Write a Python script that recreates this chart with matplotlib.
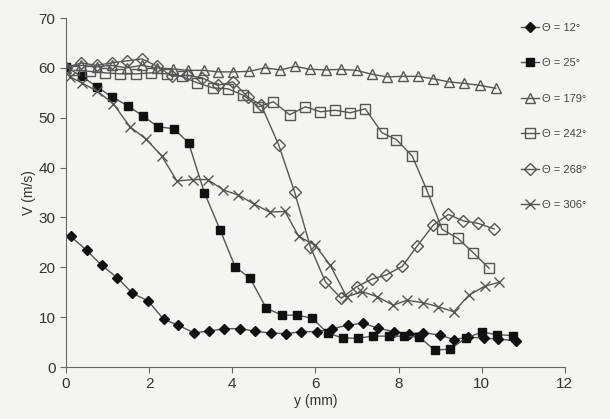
import numpy as np
import matplotlib.pyplot as plt

plt.rcParams['font.family'] = ['Liberation Sans', 'DejaVu Sans']

# Theta = 12 deg (filled diamonds)
x12 = [0.12, 0.5, 0.86, 1.24, 1.6, 1.97, 2.35, 2.7, 3.07, 3.44, 3.8, 4.18, 4.55, 4.93, 5.3,
       5.66, 6.04, 6.41, 6.78, 7.15, 7.5, 7.89, 8.25, 8.6, 9.0, 9.33, 9.67, 10.06, 10.4, 10.82]
v12 = [26.2, 23.4, 20.4, 17.9, 14.8, 13.3, 9.6, 8.4, 6.9, 7.2, 7.7, 7.7, 7.2, 6.8, 6.7,
       7.1, 7.1, 7.7, 8.4, 8.8, 7.8, 7.1, 6.7, 6.9, 6.4, 5.5, 6.0, 5.8, 5.6, 5.3]

# Theta = 25 deg (filled squares)
x25 = [0.0, 0.38, 0.75, 1.1, 1.49, 1.86, 2.21, 2.59, 2.95, 3.33, 3.71, 4.07, 4.43, 4.82, 5.2,
       5.57, 5.92, 6.3, 6.67, 7.02, 7.39, 7.77, 8.14, 8.5, 8.87, 9.24, 9.62, 10.0, 10.38, 10.75]
v25 = [60.2, 58.3, 56.2, 54.2, 52.4, 50.3, 48.2, 47.8, 45.0, 35.0, 27.5, 20.1, 17.8, 11.8, 10.4,
       10.4, 9.8, 6.8, 5.8, 5.8, 6.2, 6.2, 6.2, 6.0, 3.4, 3.6, 5.8, 7.0, 6.5, 6.3]

# Theta = 179 deg (open triangles)
x179 = [0.0, 0.37, 0.74, 1.1, 1.46, 1.82, 2.19, 2.57, 2.93, 3.31, 3.67, 4.03, 4.41, 4.78, 5.16,
        5.52, 5.88, 6.26, 6.62, 6.99, 7.37, 7.73, 8.1, 8.47, 8.84, 9.21, 9.57, 9.95, 10.34]
v179 = [60.0, 60.5, 60.2, 60.5, 60.0, 60.5, 60.0, 59.8, 59.5, 59.5, 59.2, 59.2, 59.3, 60.0, 59.6,
        60.3, 59.7, 59.6, 59.7, 59.5, 58.7, 58.2, 58.3, 58.3, 57.8, 57.2, 56.9, 56.5, 55.9]

# Theta = 242 deg (open squares)
x242 = [0.2, 0.57, 0.94, 1.31, 1.68, 2.05, 2.42, 2.79, 3.16, 3.53, 3.9, 4.27, 4.63, 4.99, 5.38,
        5.76, 6.12, 6.48, 6.84, 7.2, 7.6, 7.95, 8.33, 8.69, 9.05, 9.43, 9.8, 10.18]
v242 = [59.5, 59.3, 59.0, 58.8, 58.8, 59.0, 58.8, 58.3, 57.0, 56.0, 55.8, 54.5, 52.2, 53.2, 50.6,
        52.2, 51.2, 51.5, 51.0, 51.8, 47.0, 45.6, 42.3, 35.3, 27.6, 25.8, 22.9, 19.8]

# Theta = 268 deg (open diamonds)
x268 = [0.0, 0.37, 0.74, 1.1, 1.46, 1.83, 2.2, 2.55, 2.92, 3.28, 3.65, 4.02, 4.37, 4.7, 5.12,
        5.5, 5.88, 6.24, 6.62, 6.99, 7.35, 7.71, 8.09, 8.45, 8.84, 9.2, 9.56, 9.92, 10.3]
v268 = [60.0, 61.0, 60.5, 61.0, 61.4, 61.8, 60.3, 58.3, 58.5, 58.0, 56.5, 57.2, 54.2, 52.5, 44.5,
        35.1, 24.1, 17.1, 13.8, 16.1, 17.6, 18.5, 20.2, 24.3, 28.5, 30.6, 29.3, 28.8, 27.7]

# Theta = 306 deg (crosses)
x306 = [0.1, 0.38, 0.76, 1.14, 1.54, 1.93, 2.3, 2.67, 3.05, 3.41, 3.79, 4.15, 4.52, 4.9, 5.27,
        5.6, 6.0, 6.36, 6.75, 7.13, 7.49, 7.87, 8.2, 8.6, 8.95, 9.33, 9.69, 10.07, 10.42]
v306 = [58.2, 57.0, 55.3, 52.8, 48.2, 45.7, 42.4, 37.3, 37.6, 37.6, 35.5, 34.5, 32.7, 31.1, 31.2,
        26.2, 24.4, 20.4, 14.1, 15.1, 14.1, 12.4, 13.4, 12.9, 12.1, 11.1, 14.4, 16.2, 17.0]

labels = ['\u0398 = 12\u00b0', '\u0398 = 25\u00b0', '\u0398 = 179\u00b0',
          '\u0398 = 242\u00b0', '\u0398 = 268\u00b0', '\u0398 = 306\u00b0']

bg = '#f4f4f1'
line_col = '#555555'
fig = plt.figure(figsize=(6.10, 4.19), dpi=100, facecolor=bg)
ax = fig.add_axes([0.108, 0.124, 0.818, 0.833])
ax.set_facecolor(bg)

ax.plot(x12, v12, color=line_col, lw=1, marker='D', ms=5, mfc='#111111', mec='#111111', label=labels[0])
ax.plot(x25, v25, color=line_col, lw=1, marker='s', ms=6, mfc='#111111', mec='#111111', label=labels[1])
ax.plot(x179, v179, color=line_col, lw=1, marker='^', ms=7, mfc='none', mec='#555555', label=labels[2])
ax.plot(x242, v242, color=line_col, lw=1, marker='s', ms=7, mfc='none', mec='#555555', label=labels[3])
ax.plot(x268, v268, color=line_col, lw=1, marker='D', ms=6, mfc='none', mec='#555555', label=labels[4])
ax.plot(x306, v306, color=line_col, lw=1, marker='x', ms=7, mew=1, mec='#555555', label=labels[5])

ax.set_xlim(0, 12)
ax.set_ylim(0, 70)
ax.set_xticks(range(0, 13, 2))
ax.set_yticks(range(0, 71, 10))
for s in ['top', 'right']:
    ax.spines[s].set_visible(False)
for s in ['left', 'bottom']:
    ax.spines[s].set_color('#666666')
ax.tick_params(colors='#666666', labelcolor='#333333', labelsize=11, length=4)
ax.set_xlabel('y (mm)', fontsize=10, color='#333333', labelpad=2)
ax.set_ylabel('V (m/s)', fontsize=10, color='#333333', labelpad=2)

ax.legend(loc='upper left', bbox_to_anchor=(0.838, 0.97), bbox_transform=fig.transFigure,
          frameon=False, fontsize=8, handlelength=1.6, handletextpad=0.3, labelspacing=2.3,
          labelcolor='#444444')

fig.savefig('out.png', dpi=100, facecolor=bg)
